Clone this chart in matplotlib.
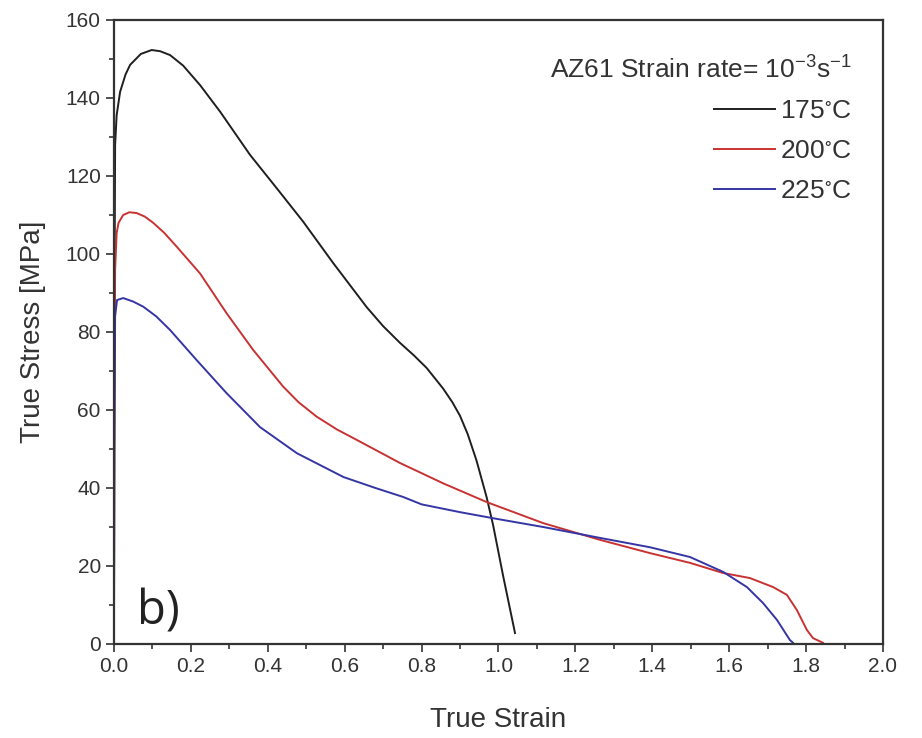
import matplotlib
matplotlib.use("Agg")
import matplotlib.pyplot as plt
from matplotlib.ticker import MultipleLocator, FormatStrFormatter

plt.rcParams['font.family'] = ['Liberation Sans', 'DejaVu Sans']
plt.rcParams['mathtext.fontset'] = 'custom'
plt.rcParams['mathtext.rm'] = 'Liberation Sans'
plt.rcParams['mathtext.default'] = 'regular'

# 175 C
strain_175 = [0.0, 0.001, 0.003, 0.007, 0.016, 0.030, 0.042, 0.070, 0.098, 0.120, 0.146, 0.180,
              0.224, 0.276, 0.354, 0.423, 0.492, 0.570, 0.657, 0.700, 0.744, 0.780, 0.813,
              0.856, 0.880, 0.900, 0.920, 0.943, 0.969, 0.986, 1.012, 1.043]
stress_175 = [0.0, 80.0, 128.0, 135.6, 141.6, 146.0, 148.5, 151.3, 152.3, 152.0, 151.0, 148.3,
              143.3, 136.5, 125.4, 116.9, 108.3, 97.7, 86.4, 81.5, 77.2, 74.0, 70.8,
              65.5, 62.0, 58.5, 53.8, 47.0, 37.7, 30.5, 17.5, 2.8]

# 200 C
strain_200 = [0.0, 0.001, 0.003, 0.007, 0.012, 0.024, 0.040, 0.059, 0.080, 0.102, 0.130, 0.163,
              0.224, 0.293, 0.362, 0.440, 0.480, 0.527, 0.580, 0.632, 0.744, 0.856, 0.969,
              1.116, 1.264, 1.394, 1.498, 1.584, 1.654, 1.714, 1.750, 1.776, 1.802, 1.818,
              1.844]
stress_200 = [0.0, 60.0, 96.0, 105.4, 108.0, 110.0, 110.7, 110.5, 109.6, 108.0, 105.5, 101.9,
              95.0, 84.8, 75.4, 66.0, 62.0, 58.3, 55.0, 52.3, 46.4, 41.2, 36.4,
              31.0, 26.7, 23.3, 20.8, 18.2, 16.9, 14.6, 12.6, 8.7, 3.6, 1.5,
              0.3]

# 225 C
strain_225 = [0.0, 0.001, 0.003, 0.008, 0.024, 0.050, 0.076, 0.110, 0.146, 0.215, 0.293, 0.380,
              0.476, 0.597, 0.680, 0.752, 0.800, 0.900, 1.000, 1.116, 1.264, 1.394, 1.498,
              1.584, 1.646, 1.688, 1.724, 1.758, 1.766]
stress_225 = [0.0, 50.0, 84.0, 88.2, 88.7, 87.8, 86.5, 84.0, 80.5, 72.8, 64.3, 55.6,
              48.9, 42.8, 40.0, 37.7, 35.8, 33.8, 32.0, 30.0, 27.2, 24.8, 22.3,
              18.5, 14.6, 10.5, 6.2, 1.0, 0.3]

labels = ['175$^{\\circ}$C', '200$^{\\circ}$C', '225$^{\\circ}$C']
colors = ['#1f1f1f', '#c83232', '#3535a5']

fig = plt.figure(figsize=(9.22, 7.38), dpi=100)
ax = fig.add_axes([0.1236, 0.1274, 0.8341, 0.8455])

for xs, ys, lab, c in zip([strain_175, strain_200, strain_225],
                          [stress_175, stress_200, stress_225], labels, colors):
    ax.plot(xs, ys, color=c, lw=1.4, label=lab, solid_joinstyle='round')

ax.set_xlim(0, 2.0)
ax.set_ylim(0, 160)
ax.xaxis.set_major_locator(MultipleLocator(0.2))
ax.xaxis.set_minor_locator(MultipleLocator(0.1))
ax.yaxis.set_major_locator(MultipleLocator(20))
ax.yaxis.set_minor_locator(MultipleLocator(10))
ax.xaxis.set_major_formatter(FormatStrFormatter('%.1f'))
ax.tick_params(which='both', direction='out', top=False, right=False,
               labelsize=15, colors='#333333', width=1.2)
ax.tick_params(which='major', length=6)
ax.tick_params(which='minor', length=3.5)
for s in ax.spines.values():
    s.set_linewidth(1.6)
    s.set_color('#333333')

ax.set_xlabel('True Strain', fontsize=20, color='#333333', labelpad=22)
ax.set_ylabel('True Stress [MPa]', fontsize=20, color='#333333', labelpad=14)

leg = ax.legend(loc='upper right', bbox_to_anchor=(0.99, 0.98), frameon=False,
                fontsize=19, handlelength=2.3, handletextpad=0.2, labelspacing=0.6,
                title='AZ61 Strain rate= 10$^{-3}$s$^{-1}$', title_fontsize=19,
                alignment='right')
for t in leg.get_texts():
    t.set_color('#333333')
leg.get_title().set_color('#333333')

ax.text(0.06, 5, 'b)', fontsize=34, family=['Open Sans', 'DejaVu Sans'], color='#222222')

fig.savefig('out.png', dpi=100)
